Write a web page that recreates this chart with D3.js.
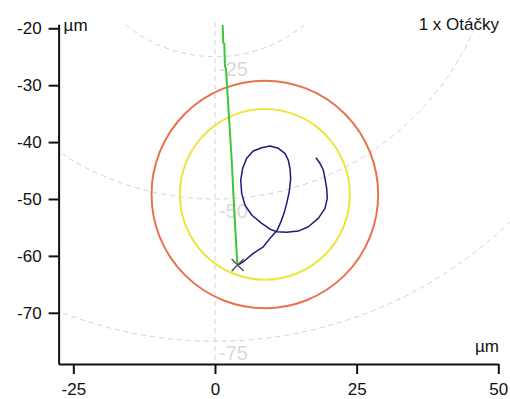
<!DOCTYPE html>
<html>
<head>
<meta charset="utf-8">
<script src="https://cdn.jsdelivr.net/npm/d3@7"></script>
<style>
  body { margin: 0; background: #fff; }
  text { font-family: "Liberation Sans", Arial, sans-serif; }
</style>
</head>
<body>
<div id="chart"></div>
<script>
// 1) Data (µm)
const xTicks = [-25, 0, 25, 50];
const yTicks = [-20, -30, -40, -50, -60, -70];
const gridRadii = [25, 50, 75];
const gridLabels = ["-25", "-50", "-75"];

const circleCenter = [8.8, -49.2];
const circleRadii = [20, 15];
const circleColors = ["#e8734c", "#f0e33a"];

const markerPoint = [4.0, -61.6];

const greenX = [1.36, 1.46, 1.64, 1.76, 1.94, 2.17, 2.56, 2.95, 3.35, 3.83, 3.95];
const greenY = [-19.42, -22.53, -22.67, -26.75, -27.07, -30.85, -37.0, -43.15, -51.07, -59.5, -61.4];

const pathX = [4.0, 4.99, 6.76, 8.52, 9.71, 10.89, 11.59, 12.18, 12.65, 13.11, 13.36, 13.23, 12.93,
  12.35, 11.17, 9.71, 8.24, 6.76, 5.59, 4.89, 4.54, 4.71, 5.29, 6.48, 8.24, 9.71, 10.89, 12.65,
  14.70, 16.46, 18.23, 19.41, 19.82, 19.71, 19.41, 19.11, 18.53, 17.82];
const pathY = [-61.6, -61.03, -59.56, -58.40, -56.92, -55.64, -54.11, -52.52, -50.77, -48.73, -46.37,
  -44.61, -43.15, -41.98, -41.10, -40.69, -40.99, -41.57, -42.86, -44.61, -46.67, -49.01, -51.07,
  -52.82, -54.28, -55.29, -55.76, -55.86, -55.64, -54.88, -53.40, -51.65, -49.89, -48.13, -46.37,
  -44.91, -43.73, -42.75];

// 2) Dimensions
const width = 510;
const height = 399;

const svg = d3.select("#chart")
  .append("svg")
  .attr("width", width)
  .attr("height", height);

// 3) Scales (equal aspect, as in the reference)
const x = d3.scaleLinear().domain([-27.6, 50]).range([58.6, 498.3]);
const y = d3.scaleLinear().domain([-19.3, -79]).range([24.3, 364]);

// clip for the polar grid
svg.append("clipPath").attr("id", "plotClip")
  .append("rect")
    .attr("x", x(-27.6)).attr("y", 22)
    .attr("width", width - x(-27.6)).attr("height", y(-79) - 22);

// 4) Polar grid (dashed)
const grid = svg.append("g").attr("clip-path", "url(#plotClip)");

grid.selectAll(".ring")
  .data(gridRadii)
  .enter().append("ellipse")
    .attr("cx", x(0))
    .attr("cy", y(0))
    .attr("rx", d => x(d) - x(0))
    .attr("ry", d => y(-d) - y(0))
    .attr("fill", "none")
    .attr("stroke", "#d2d2d2")
    .attr("stroke-width", 1)
    .attr("stroke-dasharray", "5,4");

grid.append("line")
  .attr("x1", x(0)).attr("x2", x(0))
  .attr("y1", 22).attr("y2", y(-79))
  .attr("stroke", "#d2d2d2")
  .attr("stroke-width", 1)
  .attr("stroke-dasharray", "5,4");

svg.selectAll(".ringLabel")
  .data(gridRadii)
  .enter().append("text")
    .attr("x", x(0) + 4)
    .attr("y", d => y(-d) + 19)
    .attr("font-size", 20)
    .attr("fill", "#dadada")
    .text((d, i) => gridLabels[i]);

// 5) Tolerance circles
svg.selectAll(".tol")
  .data(circleRadii)
  .enter().append("ellipse")
    .attr("cx", x(circleCenter[0]))
    .attr("cy", y(circleCenter[1]))
    .attr("rx", d => x(circleCenter[0] + d) - x(circleCenter[0]))
    .attr("ry", d => y(circleCenter[1] - d) - y(circleCenter[1]))
    .attr("fill", "none")
    .attr("stroke", (d, i) => circleColors[i])
    .attr("stroke-width", 2);

// 6) Lines
const line = d3.line().x(d => x(d[0])).y(d => y(d[1]));

svg.append("path")
  .datum(greenX.map((v, i) => [v, greenY[i]]))
  .attr("d", line)
  .attr("fill", "none")
  .attr("stroke", "#3cc63c")
  .attr("stroke-width", 2);

svg.append("path")
  .datum(pathX.map((v, i) => [v, pathY[i]]))
  .attr("d", line)
  .attr("fill", "none")
  .attr("stroke", "#1c1c78")
  .attr("stroke-width", 1.5)
  .attr("stroke-linejoin", "round");

// X marker
const mx = x(markerPoint[0]), my = y(markerPoint[1]);
svg.append("path")
  .attr("d", `M${mx - 6},${my - 6}L${mx + 6},${my + 6}M${mx - 6},${my + 6}L${mx + 6},${my - 6}`)
  .attr("stroke", "#555")
  .attr("stroke-width", 1.5);

// 7) Axes (plain hyphen minus, like the reference)
const fmt = d => String(d);

const yAxis = svg.append("g")
  .attr("transform", `translate(${x(-27.6)},0)`)
  .call(d3.axisLeft(y).tickValues(yTicks).tickFormat(fmt).tickSize(10).tickSizeOuter(0).tickPadding(7));

const xAxis = svg.append("g")
  .attr("transform", `translate(0,${y(-79)})`)
  .call(d3.axisBottom(x).tickValues(xTicks).tickFormat(fmt).tickSize(10).tickSizeOuter(0).tickPadding(9));

[xAxis, yAxis].forEach(g => {
  g.selectAll("path, line").attr("stroke", "#111").attr("stroke-width", 2);
  g.selectAll("text")
    .attr("font-size", 17)
    .attr("fill", "#111")
    .style("font-family", "'Liberation Sans', Arial, sans-serif");
});

// 8) Unit labels and title
svg.append("text")
  .attr("x", x(-27.6) + 5)
  .attr("y", 31)
  .attr("font-size", 17)
  .attr("fill", "#111")
  .text("µm");

svg.append("text")
  .attr("x", 499)
  .attr("y", 352)
  .attr("text-anchor", "end")
  .attr("font-size", 17)
  .attr("fill", "#111")
  .text("µm");

svg.append("text")
  .attr("x", 499)
  .attr("y", 30)
  .attr("text-anchor", "end")
  .attr("font-size", 17)
  .attr("fill", "#111")
  .text("1 x Otáčky");
</script>
</body>
</html>
